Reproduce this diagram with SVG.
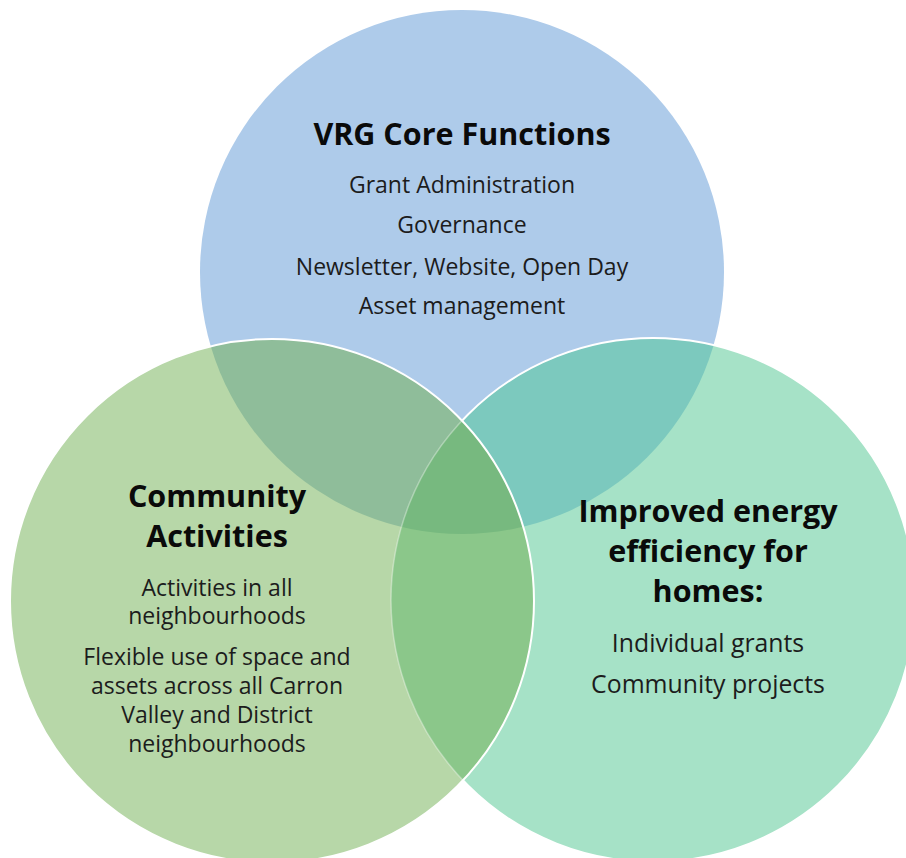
<svg xmlns="http://www.w3.org/2000/svg" width="906" height="858" viewBox="0 0 906 858">
  <style>
    .title { font-family: "Open Sans", "Noto Sans", "Liberation Sans", sans-serif; font-weight: 700; font-size: 30.5px; fill: #0a0a0a; text-anchor: middle; }
    .item { font-family: "Open Sans", "Noto Sans", "Liberation Sans", sans-serif; font-weight: 400; font-size: 23px; fill: #1c1c1c; text-anchor: middle; }
    .item-lg { font-size: 24.8px; }
    .edge { fill: none; stroke: #ffffff; stroke-width: 2; }
    .edge-faint { fill: none; stroke: #ffffff; stroke-width: 1.5; stroke-opacity: 0.35; }
  </style>
  <defs>
    <circle id="c-core" cx="462" cy="272" r="262"/>
    <circle id="c-community" cx="272" cy="601" r="262"/>
    <circle id="c-energy" cx="653" cy="600" r="262"/>
    <clipPath id="clip-core"><use href="#c-core"/></clipPath>
    <clipPath id="clip-energy"><use href="#c-energy"/></clipPath>
    <clipPath id="clip-community"><use href="#c-community"/></clipPath>
  </defs>

  <rect width="906" height="858" fill="#ffffff"/>

  <!-- Top set: core functions -->
  <g id="core-functions">
    <use href="#c-core" fill="#aecbea"/>
    <text class="title" x="462" y="145">VRG Core Functions</text>
    <text class="item" x="462" y="193">Grant Administration</text>
    <text class="item" x="462" y="233">Governance</text>
    <text class="item" x="462" y="275">Newsletter, Website, Open Day</text>
    <text class="item" x="462" y="314">Asset management</text>
  </g>

  <!-- Right set: energy efficiency -->
  <g id="energy-efficiency">
    <use href="#c-energy" fill="#a6e2c7"/>
    <use href="#c-energy" fill="#7cc9be" clip-path="url(#clip-core)"/>
    <use href="#c-energy" class="edge"/>
    <text class="title" x="708" y="522">Improved energy</text>
    <text class="title" x="708" y="562">efficiency for</text>
    <text class="title" x="708" y="602">homes:</text>
    <text class="item item-lg" x="708" y="652">Individual grants</text>
    <text class="item item-lg" x="708" y="693">Community projects</text>
  </g>

  <!-- Left set: community activities, with the shared overlaps -->
  <g id="community-activities">
    <use href="#c-community" fill="#b7d7a8"/>
    <use href="#c-community" fill="#8fbd9a" clip-path="url(#clip-core)"/>
    <use href="#c-community" fill="#8bc78a" clip-path="url(#clip-energy)"/>
    <g clip-path="url(#clip-core)">
      <use href="#c-community" fill="#77b97f" clip-path="url(#clip-energy)"/>
    </g>
    <g clip-path="url(#clip-community)">
      <use href="#c-energy" class="edge-faint"/>
    </g>
    <use href="#c-community" class="edge"/>
    <text class="title" x="217" y="507">Community</text>
    <text class="title" x="217" y="547">Activities</text>
    <text class="item" x="217" y="596">Activities in all</text>
    <text class="item" x="217" y="624">neighbourhoods</text>
    <text class="item" x="217" y="665">Flexible use of space and</text>
    <text class="item" x="217" y="694">assets across all Carron</text>
    <text class="item" x="217" y="723">Valley and District</text>
    <text class="item" x="217" y="752">neighbourhoods</text>
  </g>
</svg>
